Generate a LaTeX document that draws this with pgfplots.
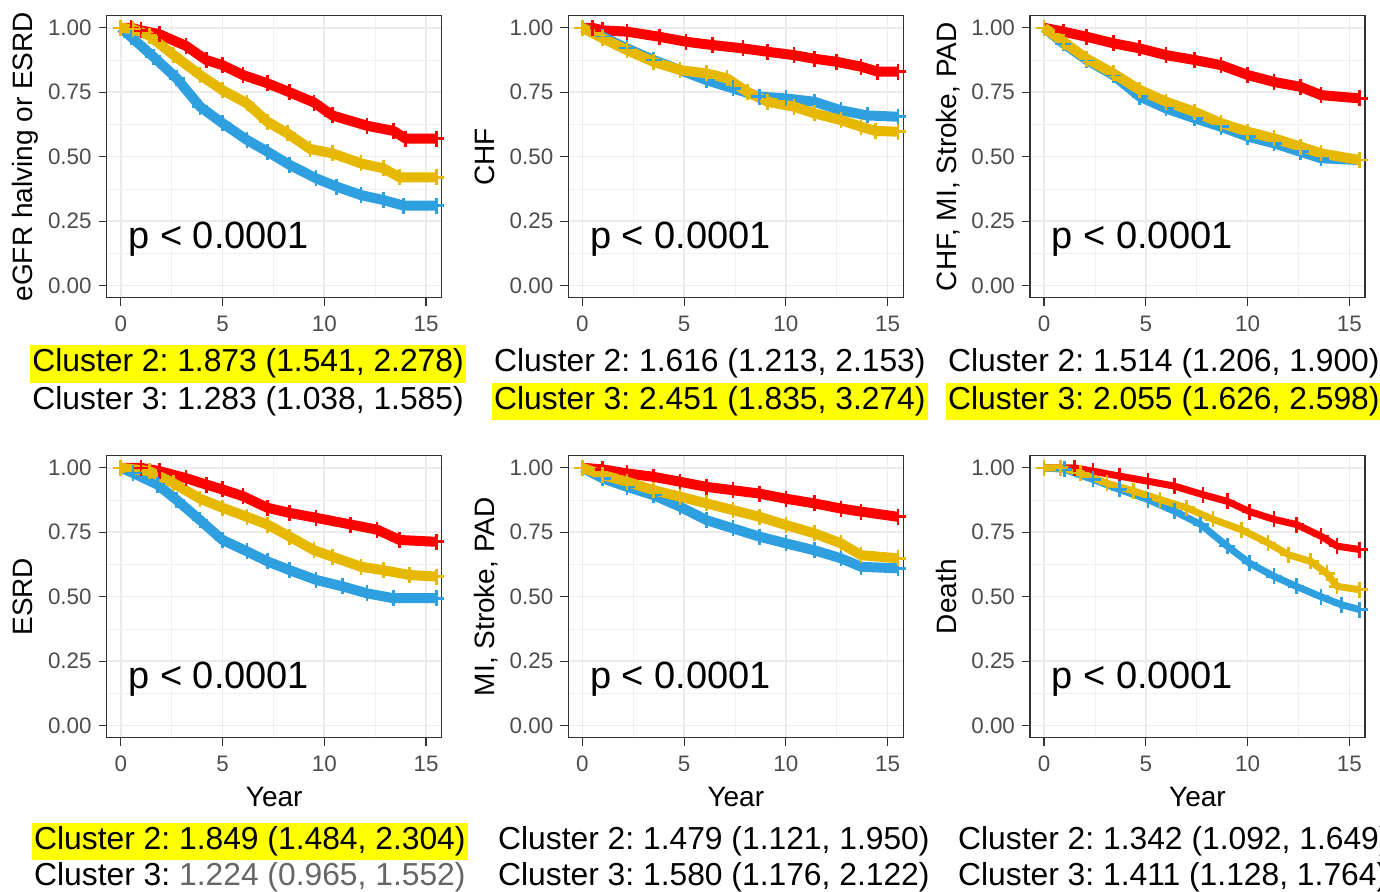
\documentclass[border=0pt]{standalone}
\usepackage{pgfplots}
\pgfplotsset{compat=1.18}
\usepackage{fontspec}
\setmainfont{Liberation Sans}
\frenchspacing
\definecolor{kmred}{HTML}{FF0000}
\definecolor{kmyel}{HTML}{E7B800}
\definecolor{kmblue}{HTML}{2E9FDF}
\definecolor{tickgrey}{HTML}{4D4D4D}
\definecolor{hl}{HTML}{FFFF00}

\pgfplotsset{
  km/.style={
    scale only axis, width=167.5pt, height=141pt,
    xmin=-0.69, xmax=15.77, ymin=-0.047, ymax=1.047,
    xtick={0,5,10,15}, xticklabels={0,5,10,15},
    ytick={0,0.25,0.5,0.75,1}, yticklabels={0.00,0.25,0.50,0.75,1.00},
    minor x tick num=1, minor y tick num=1,
    grid=both,
    major grid style={color=black!8, line width=0.8pt},
    minor grid style={color=black!6, line width=0.4pt},
    minor tick length=0pt, major tick length=4pt, tick align=outside,
    xtick pos=bottom, ytick pos=left,
    tick style={color=black!80, line width=0.6pt},
    axis line style={color=black!80, line width=0.7pt},
    ticklabel style={font=\fontsize{11.2}{13}\selectfont, color=tickgrey},
    xticklabel style={yshift=-1.5pt},
    label style={font=\fontsize{14}{16}\selectfont},
    ylabel style={at={(axis description cs:-0.22,0.5)}, anchor=base, rotate=0},
    xlabel style={at={(axis description cs:0.5,-0.245)}, anchor=base},
    clip=true,
  },
  kmline/.style={line width=5pt, line join=round, mark=+, mark size=4pt,
    mark options={line width=1.3pt}},
}
\newcommand{\pval}{\node[anchor=base west, inner sep=0pt, font=\fontsize{19}{21}\selectfont] at (axis cs:0.36,0.142) {p < 0.0001};}

\begin{document}
\begin{tikzpicture}
\useasboundingbox (0,0) rectangle (690pt,446pt);

% row 1
\begin{axis}[km, at={(53.35pt,297.15pt)}, anchor=south west, ylabel={eGFR halving or ESRD}]
\addplot[kmline, color=kmred] coordinates {(0,1) (0.5,1) (1.0,0.99) (1.9,0.975) (3.2,0.93) (4.2,0.875) (5.0,0.855) (6.0,0.817) (7.2,0.785) (8.3,0.75) (9.5,0.71) (10.4,0.66) (12.1,0.62) (13.4,0.60) (14.0,0.57) (15.5,0.57)};
\addplot[kmline, color=kmblue] coordinates {(0,1) (0.5,0.965) (1.6,0.888) (2.75,0.804) (3.9,0.694) (5.0,0.63) (6.2,0.565) (7.2,0.52) (8.3,0.468) (9.6,0.416) (10.6,0.384) (11.8,0.351) (12.9,0.332) (13.9,0.31) (15.5,0.31)};
\addplot[kmline, color=kmyel] coordinates {(0,1) (0.6,0.995) (1.4,0.97) (2.6,0.894) (3.9,0.817) (5.0,0.758) (6.2,0.707) (7.2,0.636) (8.2,0.59) (9.3,0.53) (10.4,0.513) (11.8,0.474) (12.9,0.455) (13.7,0.42) (15.5,0.42)};
\pval
\end{axis}

\begin{axis}[km, at={(284.15pt,297.15pt)}, anchor=south west, ylabel={CHF}]
\addplot[kmline, color=kmred] coordinates {(0,1) (0.5,1) (1.0,0.99) (2.2,0.985) (3.8,0.965) (5.1,0.946) (6.4,0.933) (7.9,0.92) (9.1,0.907) (10.4,0.894) (11.4,0.88) (12.5,0.868) (13.7,0.849) (14.5,0.83) (15.5,0.83)};
\addplot[kmline, color=kmblue] coordinates {(0,1) (1.0,0.965) (2.2,0.92) (3.5,0.875) (4.8,0.836) (6.1,0.797) (7.4,0.765) (8.7,0.733) (10.0,0.726) (11.4,0.713) (12.7,0.68) (14.0,0.66) (15.5,0.655)};
\addplot[kmline, color=kmyel] coordinates {(0,1) (1.0,0.959) (2.2,0.913) (3.5,0.868) (4.8,0.836) (6.1,0.823) (7.1,0.804) (8.1,0.752) (9.1,0.713) (10.4,0.694) (11.4,0.668) (12.7,0.642) (13.7,0.616) (14.4,0.6) (15.5,0.597)};
\pval
\end{axis}

\begin{axis}[km, at={(515pt,297.15pt)}, anchor=south west, ylabel={CHF, MI, Stroke, PAD}]
\addplot[kmline, color=kmred] coordinates {(0,1) (0.95,0.985) (2.1,0.965) (3.4,0.94) (4.7,0.92) (6.0,0.894) (7.4,0.875) (8.7,0.855) (10.0,0.817) (11.3,0.79) (12.6,0.771) (13.6,0.739) (15.5,0.726)};
\addplot[kmline, color=kmblue] coordinates {(0,1) (0.95,0.94) (2.1,0.875) (3.4,0.817) (4.7,0.733) (6.0,0.687) (7.4,0.649) (8.7,0.616) (10.0,0.578) (11.3,0.552) (12.6,0.519) (13.6,0.494) (15.5,0.487)};
\addplot[kmline, color=kmyel] coordinates {(0,1) (0.95,0.946) (2.1,0.88) (3.4,0.823) (4.7,0.759) (6.0,0.713) (7.4,0.674) (8.7,0.63) (10.0,0.597) (11.3,0.571) (12.6,0.539) (13.6,0.513) (15.5,0.487)};
\pval
\end{axis}

% row 2
\begin{axis}[km, at={(53.35pt,77.15pt)}, anchor=south west, ylabel={ESRD}, xlabel={Year}]
\addplot[kmline, color=kmred] coordinates {(0,1) (1.0,1) (1.9,0.987) (3.2,0.96) (4.2,0.935) (5.0,0.916) (6.0,0.89) (7.2,0.845) (8.3,0.825) (9.6,0.806) (11.3,0.78) (12.6,0.76) (13.7,0.72) (15.5,0.713)};
\addplot[kmline, color=kmblue] coordinates {(0,1) (0.6,0.98) (1.8,0.935) (2.75,0.875) (3.9,0.797) (5.0,0.72) (6.2,0.676) (7.2,0.637) (8.3,0.603) (9.6,0.565) (10.9,0.54) (12.1,0.513) (13.4,0.494) (15.5,0.494)};
\addplot[kmline, color=kmyel] coordinates {(0,1) (1.4,0.987) (2.6,0.94) (3.9,0.88) (5.0,0.845) (6.2,0.81) (7.2,0.78) (8.3,0.733) (9.5,0.68) (10.4,0.655) (11.8,0.616) (12.9,0.603) (14.2,0.584) (15.5,0.578)};
\pval
\end{axis}

\begin{axis}[km, at={(284.15pt,77.15pt)}, anchor=south west, ylabel={MI, Stroke, PAD}, xlabel={Year}]
\addplot[kmline, color=kmred] coordinates {(0,1) (1.0,0.994) (2.2,0.978) (3.5,0.965) (4.8,0.946) (6.1,0.926) (7.4,0.913) (8.7,0.9) (10.0,0.88) (11.4,0.862) (12.7,0.842) (13.7,0.83) (15.5,0.81)};
\addplot[kmline, color=kmblue] coordinates {(0,1) (1.0,0.959) (2.2,0.926) (3.5,0.894) (4.8,0.849) (6.1,0.797) (7.4,0.765) (8.7,0.733) (10.0,0.707) (11.4,0.68) (12.7,0.649) (13.7,0.616) (15.5,0.61)};
\addplot[kmline, color=kmyel] coordinates {(0,1) (1.0,0.972) (2.2,0.946) (3.5,0.913) (4.8,0.888) (6.1,0.862) (7.4,0.836) (8.7,0.81) (10.0,0.778) (11.4,0.746) (12.7,0.707) (13.7,0.661) (15.5,0.649)};
\pval
\end{axis}

\begin{axis}[km, at={(515pt,77.15pt)}, anchor=south west, ylabel={Death}, xlabel={Year}]
\addplot[kmline, line width=3.5pt, color=kmred] coordinates {(0,1) (1.5,1) (2.4,0.987) (3.7,0.968) (5.1,0.948) (6.4,0.929) (7.8,0.896) (9.0,0.87) (10.1,0.83) (11.3,0.80) (12.4,0.78) (13.6,0.735) (14.4,0.696) (15.5,0.683)};
\addplot[kmline, line width=3.5pt, color=kmblue] coordinates {(0,1) (1.0,0.994) (2.4,0.955) (3.7,0.916) (5.1,0.877) (6.4,0.832) (7.7,0.78) (9.0,0.696) (10.1,0.63) (11.3,0.579) (12.4,0.54) (13.6,0.50) (14.6,0.469) (15.5,0.45)};
\addplot[kmline, line width=3.5pt, color=kmyel] coordinates {(0,1) (0.8,1) (1.8,0.98) (3.1,0.94) (4.4,0.91) (5.7,0.877) (7.0,0.845) (8.3,0.80) (9.7,0.76) (11.0,0.709) (12.0,0.663) (13.1,0.637) (13.9,0.59) (14.4,0.54) (15.5,0.527)};
\pval
\end{axis}

% hazard ratio annotations
\tikzset{hr/.style={anchor=base west, inner xsep=1pt, inner ysep=0pt, text height=13.3pt, text depth=5.5pt, font=\fontsize{15.9}{18}\selectfont}}
\node[hr, fill=hl] at (15pt,260.15pt) {Cluster 2: 1.873 (1.541, 2.278)};
\node[hr] at (15pt,241.3pt) {Cluster 3: 1.283 (1.038, 1.585)};
\node[hr] at (245.9pt,260.15pt) {Cluster 2: 1.616 (1.213, 2.153)};
\node[hr, fill=hl] at (245.9pt,241.3pt) {Cluster 3: 2.451 (1.835, 3.274)};
\node[hr] at (472.9pt,260.15pt) {Cluster 2: 1.514 (1.206, 1.900)};
\node[hr, fill=hl] at (472.9pt,241.3pt) {Cluster 3: 2.055 (1.626, 2.598)};
\node[hr, fill=hl] at (15.9pt,21.35pt) {Cluster 2: 1.849 (1.484, 2.304)};
\node[hr] at (15.9pt,3.15pt) {Cluster 3: \textcolor{black!60}{1.224 (0.965, 1.552)}};
\node[hr] at (247.9pt,21.35pt) {Cluster 2: 1.479 (1.121, 1.950)};
\node[hr] at (247.9pt,3.15pt) {Cluster 3: 1.580 (1.176, 2.122)};
\node[hr] at (477.9pt,21.35pt) {Cluster 2: 1.342 (1.092, 1.649)};
\node[hr] at (477.9pt,3.15pt) {Cluster 3: 1.411 (1.128, 1.764)};
\end{tikzpicture}
\end{document}
